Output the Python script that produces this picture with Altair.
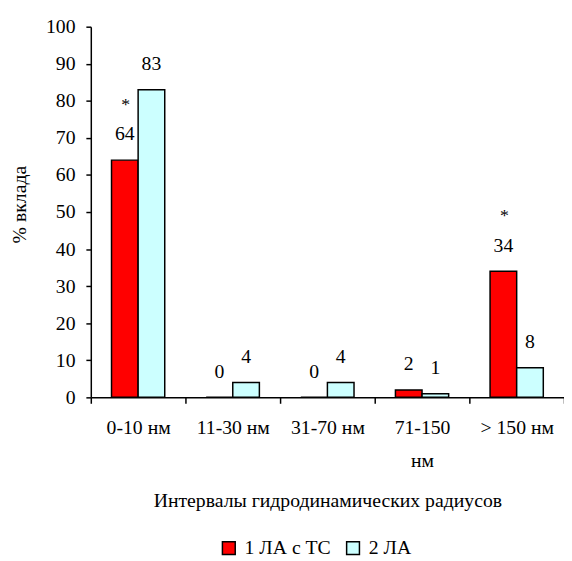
import altair as alt
import pandas as pd

categories = ["0-10 нм", "11-30 нм", "31-70 нм", "71-150 нм", "> 150 нм"]
series_names = ["1 ЛА с ТС", "2 ЛА"]
values_1 = [64, 0, 0, 2, 34]
values_2 = [83, 4, 4, 1, 8]
star_categories = ["0-10 нм", "> 150 нм"]
y_ticks = list(range(0, 101, 10))
colors = ["#FF0000", "#CCFFFF"]

rows = []
for name, vals in zip(series_names, [values_1, values_2]):
    for c, v in zip(categories, vals):
        star = "*" if (name == series_names[0] and c in star_categories) else ""
        rows.append({"cat": c, "series": name, "value": v, "star": star})
df = pd.DataFrame(rows)

FONT = "Liberation Serif"
FS = 20

x_axis = alt.Axis(
    title="Интервалы гидродинамических радиусов",
    labelAngle=0,
    tickBand="extent",
    labelExpr="datum.label == '71-150 нм' ? ['71-150', 'нм'] : datum.label",
    labelLineHeight=33,
    labelPadding=15,
    labelOverlap=False,
    titleY=105,
    titleBaseline="middle",
    tickSize=6,
    labelFont=FONT,
    labelFontSize=FS,
    labelColor="black",
    titleFont=FONT,
    titleFontSize=FS,
    titleFontWeight="normal",
    titleColor="black",
    domainColor="black",
    domainWidth=1.5,
    tickColor="black",
    tickWidth=1.5,
)
y_axis = alt.Axis(
    values=y_ticks,
    title="% вклада",
    titleX=-72,
    titleY=180,
    titleAngle=270,
    titleAlign="center",
    titleBaseline="middle",
    labelPadding=11,
    labelOverlap=False,
    labelFlush=False,
    grid=False,
    tickSize=5,
    labelFont=FONT,
    labelFontSize=FS,
    labelColor="black",
    titleFont=FONT,
    titleFontSize=FS,
    titleFontWeight="normal",
    titleColor="black",
    domainColor="black",
    domainWidth=1.5,
    tickColor="black",
    tickWidth=1.5,
)

x_scale = alt.Scale(paddingInner=0, paddingOuter=0)
xo_scale = alt.Scale(paddingInner=0, paddingOuter=0.7778)
y_scale = alt.Scale(domain=[0, 100], nice=False)


def enc_x():
    return alt.X("cat:N", sort=categories, scale=x_scale, axis=x_axis)


def enc_xo():
    return alt.XOffset("series:N", sort=series_names, scale=xo_scale)


def enc_y():
    return alt.Y("value:Q", scale=y_scale, axis=y_axis)


base = alt.Chart(df)

bars = base.mark_bar(stroke="black", strokeWidth=1.5).encode(
    x=enc_x(),
    xOffset=enc_xo(),
    y=enc_y(),
    color=alt.Color(
        "series:N",
        sort=series_names,
        scale=alt.Scale(domain=series_names, range=colors),
        legend=alt.Legend(
            orient="none",
            legendX=130,
            legendY=519,
            direction="horizontal",
            title=None,
            symbolType="square",
            symbolSize=169,
            symbolStrokeColor="black",
            symbolStrokeWidth=1.5,
            symbolOpacity=1,
            labelOffset=6,
            columnPadding=12,
            labelFont=FONT,
            labelFontSize=FS,
            labelColor="black",
        ),
    ),
)

labels = base.mark_text(
    dy=-26, baseline="middle", font=FONT, fontSize=FS, color="black"
).encode(
    x=enc_x(),
    xOffset=enc_xo(),
    y=enc_y(),
    text=alt.Text("value:Q"),
)

stars = base.transform_filter("datum.star != ''").mark_text(
    dy=-51, dx=1, baseline="alphabetic", fontSize=18, font=FONT, color="black"
).encode(
    x=enc_x(),
    xOffset=enc_xo(),
    y=enc_y(),
    text=alt.Text("star:N"),
)

chart = (
    alt.layer(bars, labels, stars)
    .properties(
        width=480,
        height=376,
        autosize=alt.AutoSizeParams(type="none"),
        padding={"left": 84, "top": 15, "right": 0, "bottom": 160},
    )
    .configure(background="white", font=FONT)
    .configure_view(stroke=None)
)

chart.save("out.html", embed_options={"renderer": "svg", "actions": False})
